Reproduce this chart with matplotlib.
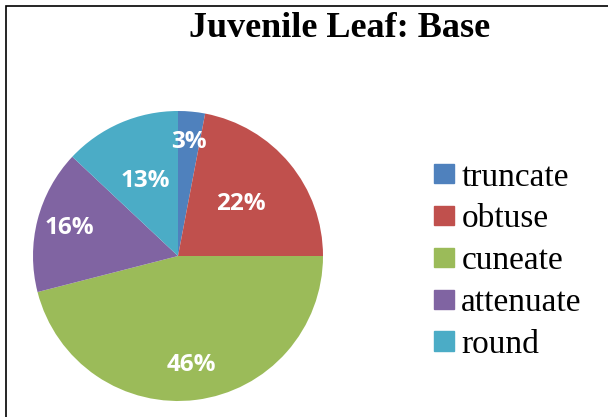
import numpy as np
import matplotlib.pyplot as plt
from matplotlib.patches import Rectangle

# data
categories = ['truncate', 'obtuse', 'cuneate', 'attenuate', 'round']
percents = [3, 22, 46, 16, 13]
colors = ['#4F81BD', '#C0504D', '#9BBB59', '#8064A2', '#4BACC6']
label_dist = [0.79, 0.56, 0.76, 0.77, 0.56]  # label placement, as fraction of radius

W, H = 608, 417
fig = plt.figure(figsize=(W / 100, H / 100), dpi=100)
ax = fig.add_axes([0, 0, 1, 1])

cx, cy, r = 178, H - 256, 145
wedges, _ = ax.pie(percents, colors=colors, startangle=90, counterclock=False,
                   center=(cx, cy), radius=r, frame=True,
                   wedgeprops=dict(linewidth=0))
ax.set_xlim(0, W)
ax.set_ylim(0, H)
ax.set_aspect('equal')
ax.axis('off')

for w, p, d in zip(wedges, percents, label_dist):
    ang = np.deg2rad((w.theta1 + w.theta2) / 2)
    ax.text(cx + d * r * np.cos(ang), cy + d * r * np.sin(ang), f'{p}%',
            ha='center', va='center', color='white', fontsize=17.5,
            fontweight='bold', family='Open Sans')

fig.text(340 / W, 1 - 37 / H, 'Juvenile Leaf: Base', ha='center', va='baseline',
         fontsize=26, fontweight='bold', family='Liberation Serif')

handles = [Rectangle((0, 0), 1, 1, color=c) for c in colors]
fig.legend(handles, categories, loc='center left', bbox_to_anchor=(434 / W, 1 - 261 / H),
           frameon=False, prop=dict(family='Liberation Serif', size=24),
           handlelength=0.6, handleheight=0.52, handletextpad=0.22,
           labelspacing=0.34, borderpad=0, borderaxespad=0)

fig.add_artist(Rectangle((5.5 / W, -0.05), 1.1, (H - 5.5) / H + 0.05,
                         transform=fig.transFigure, fill=False,
                         edgecolor='black', linewidth=1.2))

fig.savefig('out.png', dpi=100)
